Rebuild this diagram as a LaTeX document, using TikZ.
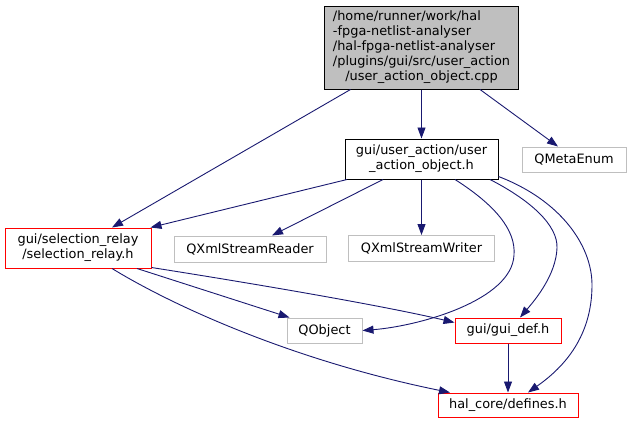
\documentclass[tikz,border=0pt]{standalone}
\usepackage{fontspec}
\setmainfont{DejaVu Sans}
\usetikzlibrary{arrows.meta}
\definecolor{edgeblue}{RGB}{25,25,112}
\definecolor{grey75}{RGB}{191,191,191}
\tikzset{
  box/.style={draw, line width=1pt, inner sep=0pt, align=center, font=\fontsize{12.9}{15}\selectfont},
  redbox/.style={box, draw=red},
  greybox/.style={box, draw=grey75},
  blackbox/.style={box, draw=black},
  edge/.style={draw=edgeblue, line width=0.9pt, -{Triangle[length=11pt,width=8pt]}},
}
\begin{document}
\begin{tikzpicture}[x=1pt,y=-1pt]
\useasboundingbox (0,0) rectangle (631,424);
\node[blackbox, fill=grey75, minimum width=194pt, minimum height=83pt] (top) at (421.5,47.5)
  {\begin{tabular}{@{}l@{}}/home/runner/work/hal\\-fpga-netlist-analyser\\/hal-fpga-netlist-analyser\\/plugins/gui/src/user\_action\\\multicolumn{1}{@{}c@{}}{/user\_action\_object.cpp}\end{tabular}};
\node[blackbox, minimum width=153pt, minimum height=40pt] (uao) at (421.5,159) {gui/user\_action/user\\\_action\_object.h};
\node[greybox, minimum width=104pt, minimum height=25pt] (qme) at (574,159.5) {QMetaEnum};
\node[redbox, minimum width=146pt, minimum height=40pt] (sel) at (78,248) {gui/selection\_relay\\/selection\_relay.h};
\node[greybox, minimum width=152pt, minimum height=26pt] (rdr) at (250,249) {QXmlStreamReader};
\node[greybox, minimum width=146pt, minimum height=26pt] (wtr) at (421.5,248.5) {QXmlStreamWriter};
\node[greybox, minimum width=75pt, minimum height=25pt] (qob) at (324.5,330.5) {QObject};
\node[redbox, minimum width=106pt, minimum height=25pt] (gdf) at (508,330.5) {gui/gui\_def.h};
\node[redbox, minimum width=140pt, minimum height=24pt] (dfn) at (508,405) {hal\_core/defines.h};

\path[edge] ([xshift=-71pt]top.south) -- ([xshift=34pt]sel.north);
\path[edge] (top.south) -- (uao.north);
\path[edge] ([xshift=58.5pt]top.south) -- ([xshift=-16pt]qme.north);

\path[edge] ([xshift=-74.5pt]uao.south) -- ([xshift=-1pt]sel.north east);
\path[edge] ([xshift=-38.5pt]uao.south) -- ([xshift=22pt]rdr.north);
\path[edge] (uao.south) -- (wtr.north);
\path[edge] ([xshift=33.5pt]uao.south) .. controls (495,205) and (516,230) .. (514,255)
   .. controls (512,300) and (420,326) .. (qob.east);
\path[edge] ([xshift=68.5pt]uao.south) .. controls (530,200) and (558,225) .. (557,248)
   .. controls (556,275) and (535,300) .. ([xshift=12pt]gdf.north);
\path[edge] ([yshift=3pt]uao.south east) .. controls (560,200) and (592,245) .. (592,285)
   .. controls (592,340) and (560,370) .. ([xshift=20pt]dfn.north);

\path[edge] ([xshift=59pt]sel.south) -- ([xshift=3pt]qob.north west);
\path[edge] ([yshift=1pt]sel.south east) .. controls (250,283) and (380,305) .. ([yshift=8pt]gdf.west);
\path[edge] ([xshift=34pt]sel.south) .. controls (180,310) and (300,362) .. ([xshift=-58pt]dfn.north);
\path[edge] (gdf.south) -- (dfn.north);
\end{tikzpicture}
\end{document}
